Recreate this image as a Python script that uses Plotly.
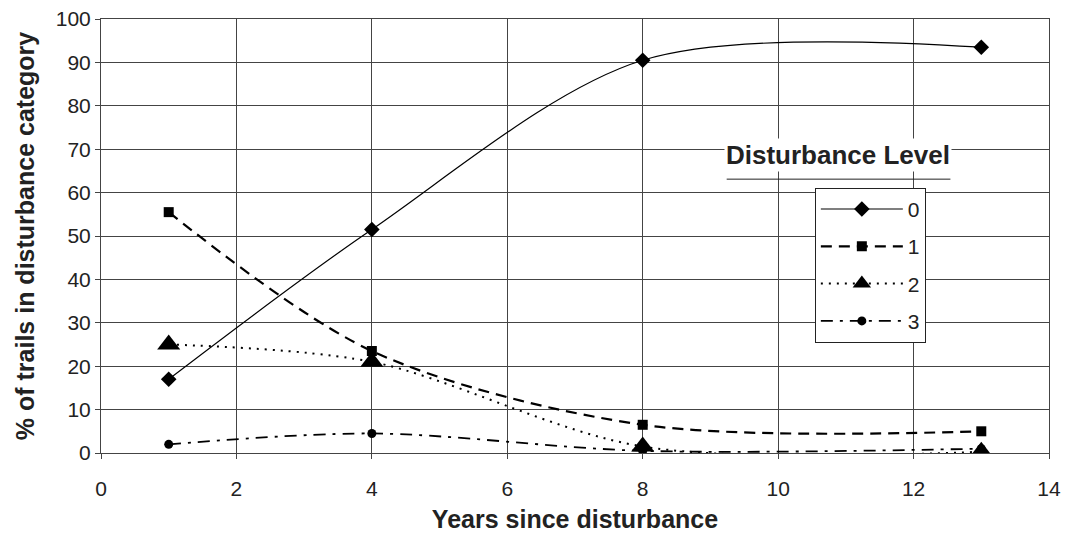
import plotly.graph_objects as go

years = [1, 4, 8, 13]
level_0 = [17, 51.5, 90.5, 93.5]
level_1 = [55.5, 23.5, 6.5, 5]
level_2 = [25, 21, 1.5, 0.3]
level_3 = [2, 4.5, 0.5, 1]

series = [
    ("0", level_0, dict(color="black", width=1.2, dash="solid"), dict(symbol="diamond", size=12)),
    ("1", level_1, dict(color="black", width=2.2, dash="11px,7px"), dict(symbol="square", size=10)),
    ("2", level_2, dict(color="black", width=2, dash="2px,6px"), dict(symbol="triangle-up", size=20)),
    ("3", level_3, dict(color="black", width=1.8, dash="12px,7px,3px,7px"), dict(symbol="circle", size=9)),
]

font = "Liberation Sans, Arial, sans-serif"

fig = go.Figure()
for name, vals, line, marker in series:
    fig.add_trace(go.Scatter(
        x=years, y=vals, name=name, legendgroup=name,
        mode="lines+markers",
        line=dict(shape="spline", smoothing=0.9, **line),
        marker=dict(color="black", **marker),
    ))

axis_common = dict(
    showgrid=True, gridcolor="#444", gridwidth=1,
    showline=True, linecolor="#444", linewidth=1, mirror=True,
    ticks="outside", ticklen=5, tickcolor="#444",
    zeroline=False, ticklabeloverflow="allow",
    tickfont=dict(family=font, size=21, color="#222"),
)

# page body has an 8px margin; keep the page short enough to avoid a scrollbar
# and leave room on the right so the "14" label is not clipped
fig.update_layout(
    width=1062, height=525,
    margin=dict(l=93, r=21, t=11, b=80, autoexpand=False),
    plot_bgcolor="white", paper_bgcolor="white",
    xaxis=dict(range=[0, 14], dtick=2, ticklabelstandoff=12,
               title=dict(text="<b>Years since disturbance</b>", standoff=20,
                          font=dict(family=font, size=25, color="#222")),
               **axis_common),
    yaxis=dict(range=[0, 100], dtick=10,
               title=dict(text="<b>% of trails in disturbance category</b>", standoff=14,
                          font=dict(family=font, size=25, color="#222")),
               **axis_common),
    legend=dict(x=0.753, y=0.611, xanchor="left", yanchor="top",
                bgcolor="white", bordercolor="#222", borderwidth=1,
                font=dict(family=font, size=21, color="#222"),
                tracegroupgap=7, itemwidth=82),
    showlegend=True,
)

fig.add_shape(type="line", xref="paper", yref="paper",
              x0=0.660, x1=0.896, y0=0.631, y1=0.631,
              line=dict(color="#222", width=1))
fig.add_annotation(text="<b>Disturbance Level</b>", xref="paper", yref="paper",
                   x=0.777, y=0.687, xanchor="center", yanchor="middle",
                   showarrow=False, bgcolor="white",
                   font=dict(family=font, size=26, color="#222"))

fig.write_html("out.html")
